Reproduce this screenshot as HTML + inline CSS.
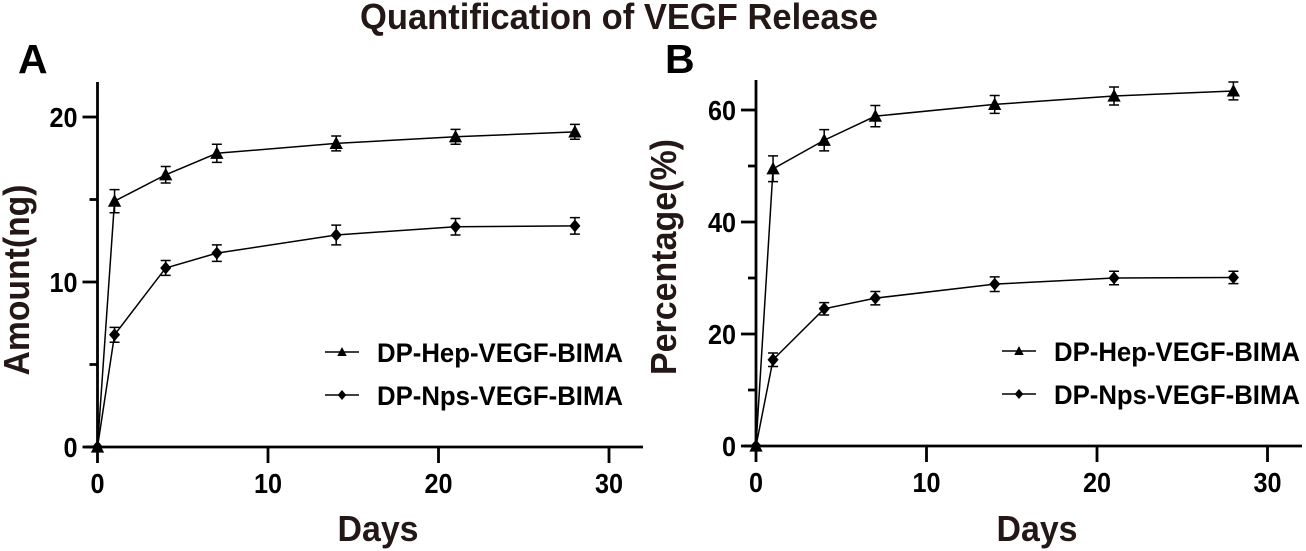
<!DOCTYPE html>
<html><head><meta charset="utf-8"><style>
html,body{margin:0;padding:0;background:#fff}
svg{display:block}
text{font-family:"Liberation Sans",sans-serif;font-weight:bold;fill:#231815}
</style></head><body>
<svg id="fig" width="1306" height="551" viewBox="0 0 1306 551" xmlns="http://www.w3.org/2000/svg">
<text x="619" y="29" font-size="36" text-anchor="middle" textLength="518" lengthAdjust="spacingAndGlyphs">Quantification of VEGF Release</text>
<text x="18" y="73" font-size="41" style="fill:#000">A</text>
<text x="665" y="73" font-size="41" style="fill:#000">B</text>
</svg>
<script>
const days = [0, 1, 4, 7, 14, 21, 28];
const xTicks = [0, 10, 20, 30];
const seriesNames = ['DP-Hep-VEGF-BIMA', 'DP-Nps-VEGF-BIMA'];
const amountHep = [0, 14.9, 16.5, 17.8, 18.4, 18.8, 19.1];
const amountHepErr = [0, 0.7, 0.5, 0.55, 0.45, 0.45, 0.45];
const amountNps = [0, 6.8, 10.85, 11.75, 12.85, 13.35, 13.4];
const amountNpsErr = [0, 0.45, 0.45, 0.5, 0.6, 0.5, 0.5];
const percentHep = [0, 49.5, 54.6, 58.9, 61, 62.5, 63.4];
const percentHepErr = [0, 2.3, 1.9, 1.9, 1.6, 1.6, 1.6];
const percentNps = [0, 15.4, 24.5, 26.4, 28.9, 30, 30.1];
const percentNpsErr = [0, 1.2, 1.1, 1.2, 1.3, 1.2, 1.1];
const amountMajorTicks = [0, 10, 20];
const amountMinorTicks = [5, 15];
const percentMajorTicks = [0, 20, 40, 60];
const percentMinorTicks = [10, 30, 50];

const svg = document.getElementById('fig');
const NS = 'http://www.w3.org/2000/svg';
function mk(tag, attrs, parent, text) {
  const e = document.createElementNS(NS, tag);
  for (const k in attrs) e.setAttribute(k, attrs[k]);
  if (text !== undefined) e.textContent = text;
  parent.appendChild(e);
  return e;
}
function triangle(g, x, y, r) {
  return mk('polygon', {points: `${x},${y - r} ${x + r * 0.95},${y + r * 0.8} ${x - r * 0.95},${y + r * 0.8}`, fill: '#000'}, g);
}
function diamond(g, x, y, r) {
  return mk('polygon', {points: `${x},${y - r} ${x + r * 0.85},${y} ${x},${y + r} ${x - r * 0.85},${y}`, fill: '#000'}, g);
}
function panel(cfg) {
  const sx = v => cfg.x0 + v * cfg.xScale;
  const sy = v => cfg.y0 - v * cfg.yScale;
  const root = mk('g', {}, svg);
  
  
  const axes = {stroke: '#000', 'stroke-width': 2.8, fill: 'none'};

  const xAxis = mk('g', axes, root);
  
  
  mk('line', {x1: sx(0) - 12, y1: cfg.y0, x2: cfg.xEnd, y2: cfg.y0}, xAxis);
  xTicks.forEach(t => {
    mk('line', {x1: sx(t), y1: cfg.y0, x2: sx(t), y2: cfg.y0 + 16}, xAxis);
    const lab = mk('text', {x: 0, y: 0, 'font-size': 28, 'text-anchor': 'middle', stroke: 'none', style: 'fill:#000',
      transform: `translate(${sx(t)},${cfg.y0 + 46}) scale(0.9,1)`}, root, t);
    
    
  });

  const yAxis = mk('g', axes, root);
  
  
  mk('line', {x1: sx(0), y1: cfg.yTop, x2: sx(0), y2: cfg.y0}, yAxis);
  cfg.major.forEach(t => {
    mk('line', {x1: sx(0) - 15, y1: sy(t), x2: sx(0), y2: sy(t)}, yAxis);
    const lab = mk('text', {x: 0, y: 0, 'font-size': 28, 'text-anchor': 'end', stroke: 'none', style: 'fill:#000',
      transform: `translate(${sx(0) - 20},${sy(t) + 10}) scale(0.9,1)`}, root, t);
    
    
  });
  cfg.minor.forEach(t => {
    mk('line', {x1: sx(0) - 8, y1: sy(t), x2: sx(0), y2: sy(t)}, yAxis);
  });

  const xTitle = mk('text', {x: cfg.xTitleX, y: 541, 'font-size': 36, 'text-anchor': 'middle', textLength: 81, lengthAdjust: 'spacingAndGlyphs'}, root, 'Days');
  
  
  const yTitle = mk('text', {x: 0, y: 0, 'font-size': 36, 'text-anchor': 'middle', textLength: cfg.yTitleLen, lengthAdjust: 'spacingAndGlyphs',
    transform: `translate(${cfg.yTitleX},${cfg.yTitleY}) rotate(-90)`}, root, cfg.yTitle);
  
  

  cfg.series.forEach((s, si) => {
    const g = mk('g', {}, root);
    
    
    mk('polyline', {points: days.map((d, i) => sx(d) + ',' + sy(s.values[i])).join(' '), fill: 'none', stroke: '#000', 'stroke-width': 1.5}, g);
    days.forEach((d, i) => {
      const x = sx(d), y = sy(s.values[i]), e = s.err[i] * cfg.yScale;
      if (e > 0) {
        const eb = mk('path', {d: `M${x} ${y - e}V${y + e}M${x - 5} ${y - e}H${x + 5}M${x - 5} ${y + e}H${x + 5}`, stroke: '#000', 'stroke-width': 1.5, fill: 'none'}, g);
        
        
      }
      const m = si === 0 ? triangle(g, x, y, 7) : diamond(g, x, y, 6.5);
      
      
    });
  });

  seriesNames.forEach((n, si) => {
    const ly = cfg.legendY[si];
    const g = mk('g', {}, root);
    
    
    mk('line', {x1: cfg.legendX, y1: ly, x2: cfg.legendX + 34, y2: ly, stroke: '#000', 'stroke-width': 1.5}, g);
    if (si === 0) triangle(g, cfg.legendX + 17, ly, 5); else diamond(g, cfg.legendX + 17, ly, 5);
    mk('text', {x: cfg.legendX + 52, y: ly + 10, 'font-size': 27, textLength: 246, lengthAdjust: 'spacingAndGlyphs', style: 'fill:#000'}, g, n);
  });
}
panel({name: 'amount-chart', x0: 97.5, y0: 447, xScale: 17.05, yScale: 16.5, xEnd: 643, yTop: 82,
  major: amountMajorTicks, minor: amountMinorTicks, yTitle: 'Amount(ng)', yTitleX: 29, yTitleY: 280, yTitleLen: 191,
  xTitleX: 378, legendX: 325, legendY: [352, 395],
  series: [{values: amountHep, err: amountHepErr}, {values: amountNps, err: amountNpsErr}]});
panel({name: 'percentage-chart', x0: 756, y0: 446, xScale: 17.05, yScale: 5.6, xEnd: 1302, yTop: 80,
  major: percentMajorTicks, minor: percentMinorTicks, yTitle: 'Percentage(%)', yTitleX: 676, yTitleY: 257, yTitleLen: 236,
  xTitleX: 1037, legendX: 1002, legendY: [351, 394],
  series: [{values: percentHep, err: percentHepErr}, {values: percentNps, err: percentNpsErr}]});
</script>
</body></html>
